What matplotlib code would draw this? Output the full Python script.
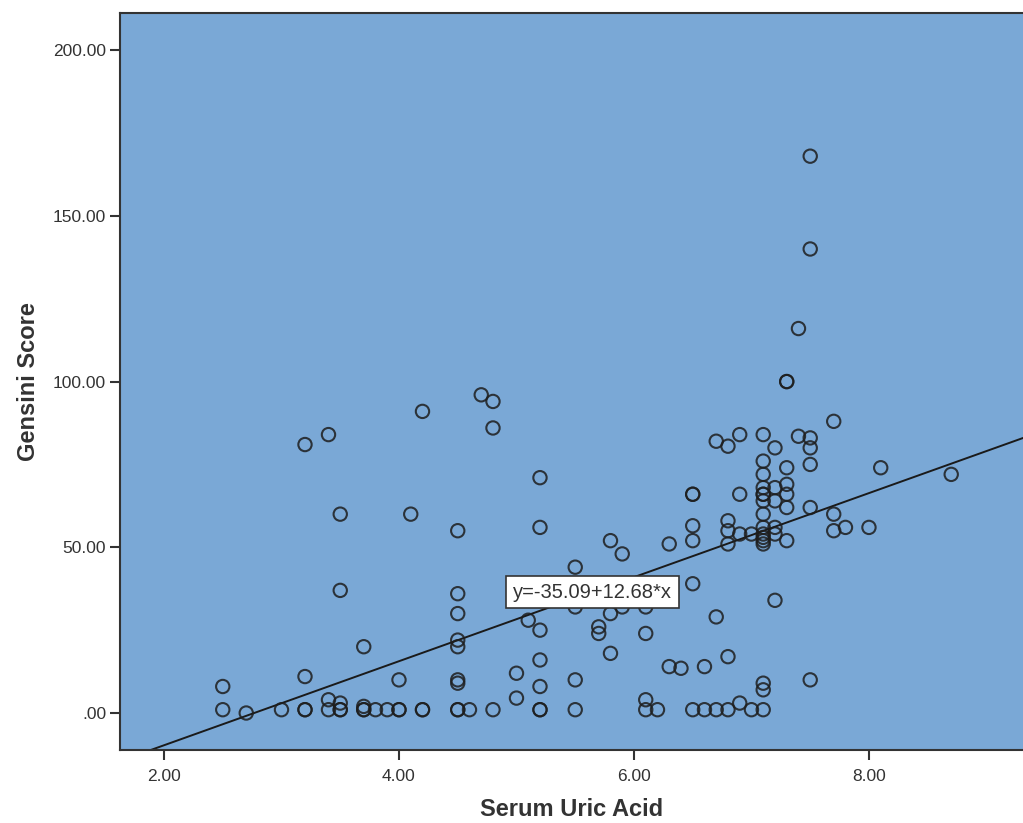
import matplotlib
matplotlib.use("Agg")
import matplotlib.pyplot as plt
import numpy as np

plt.rcParams['font.family'] = ['Liberation Sans', 'DejaVu Sans']

# Serum uric acid (x) and Gensini score (y), grouped by x value
groups = {
    2.5: [8, 1],
    2.7: [0],
    3.0: [1],
    3.2: [81, 11, 1, 1],
    3.4: [84, 4, 1],
    3.5: [60, 37, 3, 1, 1],
    3.7: [20, 2, 1, 1],
    3.8: [1],
    3.9: [1],
    4.0: [10, 1, 1],
    4.1: [60],
    4.2: [91, 1, 1],
    4.5: [55, 36, 30, 22, 20, 10, 9, 1, 1],
    4.6: [1],
    4.7: [96],
    4.8: [94, 86, 1],
    5.0: [12, 4.5],
    5.1: [28],
    5.2: [71, 56, 25, 16, 8, 1, 1],
    5.5: [44, 32, 10, 1],
    5.7: [26, 24],
    5.8: [52, 30, 18],
    5.9: [48, 32],
    6.1: [32, 24, 4, 1],
    6.2: [1],
    6.3: [51, 14],
    6.4: [13.5],
    6.5: [66, 66, 56.5, 52, 39, 1],
    6.6: [14, 1],
    6.7: [82, 29, 1],
    6.8: [80.5, 58, 55, 51, 17, 1],
    6.9: [84, 66, 54, 3],
    7.0: [54, 1],
    7.1: [84, 76, 72, 68, 66, 66, 64, 60, 56, 54, 53, 52, 51, 9, 7, 1],
    7.2: [80, 68, 64, 56, 54, 34],
    7.3: [100, 100, 74, 69, 66, 62, 52],
    7.4: [116, 83.5],
    7.5: [168, 140, 83, 80, 75, 62, 10],
    7.7: [88, 60, 55],
    7.8: [56],
    8.0: [56],
    8.1: [74],
    8.7: [72],
}
uric_acid = [x for x, ys in groups.items() for _ in ys]
gensini = [y for ys in groups.values() for y in ys]

intercept = -35.09
slope = 12.68
fit_label = "y=-35.09+12.68*x"

x_ticks = [2.0, 4.0, 6.0, 8.0]
x_ticklabels = ["2.00", "4.00", "6.00", "8.00"]
y_ticks = [0, 50, 100, 150, 200]
y_ticklabels = [".00", "50.00", "100.00", "150.00", "200.00"]

fig = plt.figure(figsize=(10.23, 8.23), dpi=100)
ax = fig.add_axes([120/1023, 73/823, (1023-120)/1023, (750-13)/823])
ax.set_facecolor('#7aa8d6')

xmin, xmax = 1.6255, 9.311
ymin, ymax = -11.16, 211.2
ax.set_xlim(xmin, xmax)
ax.set_ylim(ymin, ymax)

ax.scatter(uric_acid, gensini, s=92, facecolors='none', edgecolors='#1e1e1e',
           linewidths=1.5, alpha=0.85, zorder=3)

xs = np.array([xmin, xmax])
ax.plot(xs, intercept + slope * xs, color='#1a1a1a', lw=1.4, zorder=2)

ax.text(5.648, 36.5, fit_label, ha='center', va='center', fontsize=14.5,
        color='#333333', zorder=5,
        bbox=dict(boxstyle='square,pad=0.33', facecolor='white',
                  edgecolor='#333333', linewidth=1.2))

ax.set_xticks(x_ticks)
ax.set_xticklabels(x_ticklabels)
ax.set_yticks(y_ticks)
ax.set_yticklabels(y_ticklabels)
ax.tick_params(axis='both', direction='out', length=7, width=1.5, color='#333333',
               labelsize=12.5, labelcolor='#333333')
ax.tick_params(axis='x', pad=7)
ax.tick_params(axis='y', pad=3)

for side in ['left', 'top', 'bottom']:
    ax.spines[side].set_color('#333333')
    ax.spines[side].set_linewidth(1.5)
ax.spines['right'].set_visible(False)

ax.set_xlabel('Serum Uric Acid', fontsize=17, fontweight='bold', color='#333333', labelpad=10)
ax.set_ylabel('Gensini Score', fontsize=17, fontweight='bold', color='#333333', labelpad=9)

fig.savefig('out.png', dpi=100)
